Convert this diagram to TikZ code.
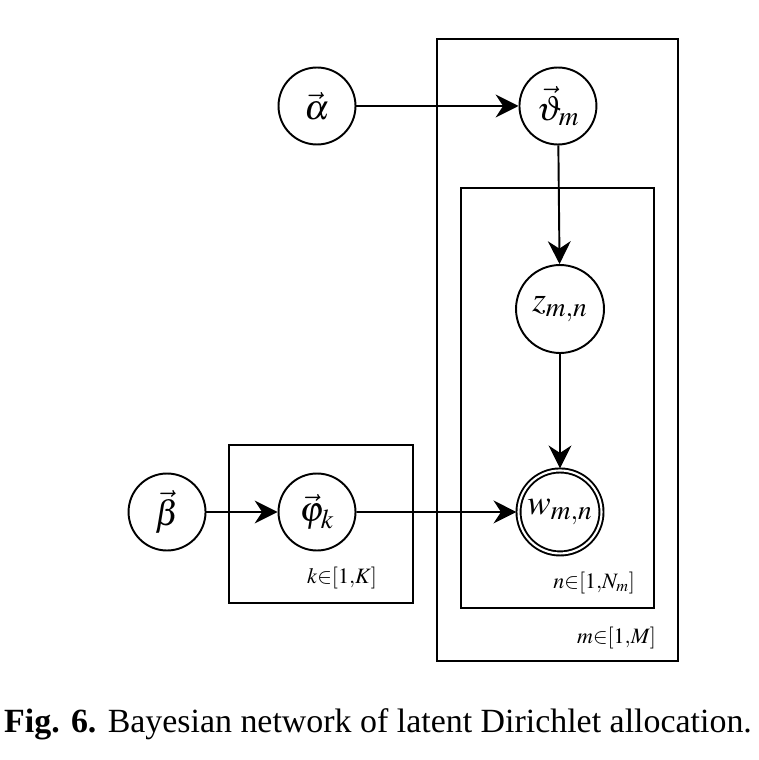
\documentclass[tikz,border=0pt]{standalone}
\usepackage{amsmath}
\usepackage{mathptmx}
\usepackage{fontspec}
\setmainfont{Liberation Serif}
\usetikzlibrary{arrows.meta}
\DeclareMathSizes{20}{20}{15.5}{12}

\begin{document}
\begin{tikzpicture}[x=0.02cm, y=-0.02cm, line width=1.1pt, >={Stealth[length=13pt,width=13pt]},
  main node/.style={draw,circle,minimum size=1.54cm,inner sep=0pt,font=\fontsize{20}{24}\selectfont},
  big node/.style={main node,minimum size=1.76cm},
  obs node/.style={main node,double,double distance=1.2pt,minimum size=1.66cm,outer sep=1.2pt},
  plate label/.style={font=\fontsize{12.5}{15}\selectfont,anchor=base east,inner sep=0pt}]
\useasboundingbox (0,0) rectangle (758,760);

\node[main node] (alpha) at (317,106) {$\vec{\alpha}$};
\node[main node, right of=alpha, node distance=4.82cm] (theta) {$\vec{\vartheta}_m$};
\node[big node] (z) at (560,309) {$z_{m,n}$};
\node[obs node, below of=z, node distance=4.06cm] (w) {$w_{m,n}$};
\node[main node] (phi) at (317,512) {$\vec{\varphi}_k$};
\node[main node, left of=phi, node distance=3cm] (beta) {$\vec{\beta}$};

% plates
\draw (437,39) rectangle (678,661);
\draw (461,188) rectangle (654,608);
\draw (229,445) rectangle (413,603);
\node[plate label] (mlab) at (657,643) {$m{\in}[1{,}M]$};
\node[plate label] (nlab) at (636,588) {$n{\in}[1{,}N_m]$};
\node[plate label] (klab) at (378,583) {$k{\in}[1{,}K]$};

\path[->]
(alpha) edge (theta)
(theta) edge (z)
(z) edge (w)
(beta) edge (phi)
(phi) edge (w);

\node[font=\fontsize{19.3}{23}\selectfont, anchor=base] (caption) at (378,732)
  {\textbf{Fig. 6.} Bayesian network of latent Dirichlet allocation.};
\end{tikzpicture}
\end{document}
